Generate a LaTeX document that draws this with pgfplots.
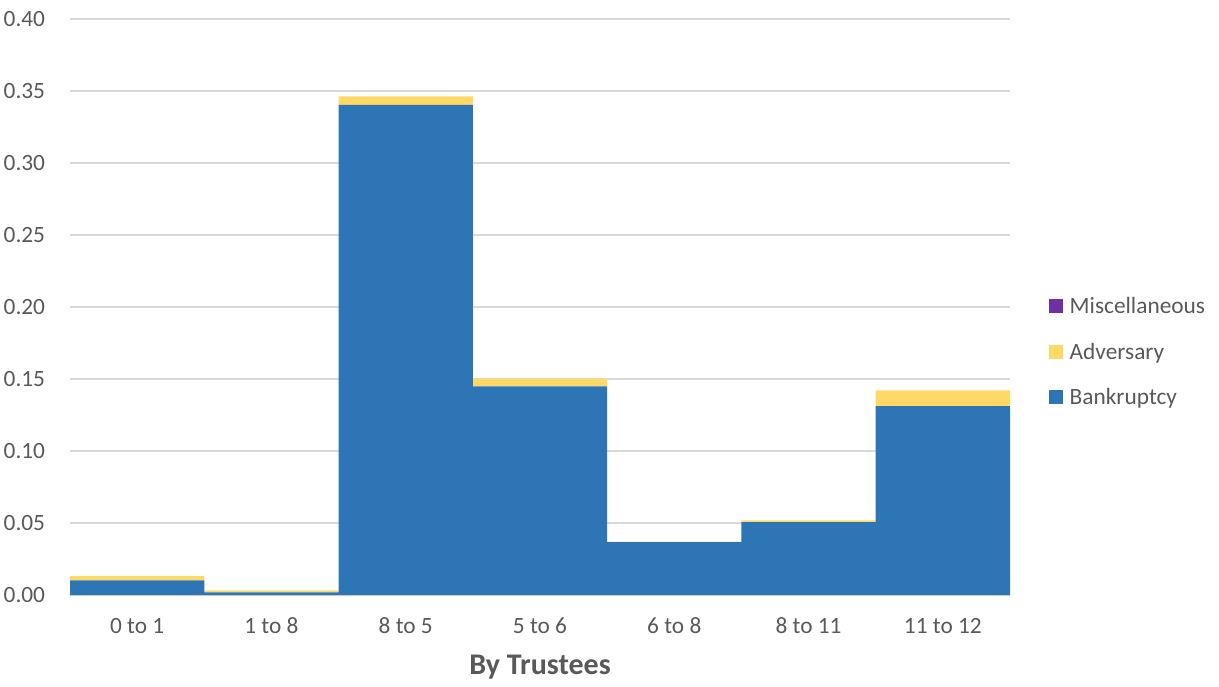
\documentclass[border=0pt]{standalone}
\usepackage{pgfplots}
\pgfplotsset{compat=1.18}
\usepackage{fontspec}
\setmainfont{Carlito}
\definecolor{cBlue}{HTML}{2E75B6}
\definecolor{cYel}{HTML}{FFD966}
\definecolor{cPur}{HTML}{7030A0}
\definecolor{cGrid}{HTML}{D9D9D9}
\definecolor{cText}{HTML}{595959}
\begin{document}
\begin{tikzpicture}
\path[use as bounding box] (-52.5pt,-68.25pt) rectangle (861.75pt,446.25pt);
\begin{axis}[
  at={(0,0)}, anchor=south west,
  scale only axis, width=705pt, height=432pt,
  ybar stacked, bar width=1,
  xmin=-0.5, xmax=6.5, ymin=0, ymax=0.40,
  ytick={0,0.05,...,0.40},
  xtick={0,...,6},
  xticklabels={0 to 1,1 to 8,8 to 5,5 to 6,6 to 8,8 to 11,11 to 12},
  yticklabel style={/pgf/number format/fixed,/pgf/number format/fixed zerofill,/pgf/number format/precision=2,/pgf/number format/assume math mode=true},
  ymajorgrids, grid style={cGrid, line width=1pt},
  axis line style={draw=none},
  major tick length=0pt,
  tick label style={font=\fontsize{17.5}{21}\selectfont, text=cText, inner sep=0pt},
  yticklabel style={anchor=east, xshift=-18.5pt},
  xticklabel style={anchor=north, yshift=-17pt},
  xlabel={By Trustees},
  xlabel style={font=\bfseries\fontsize{22.5}{27}\selectfont, text=cText, at={(axis description cs:0.5,0)}, anchor=center, yshift=-54pt},
  legend style={draw=none, fill=none, at={(rel axis cs:1.037,0.422)}, anchor=west,
    font=\fontsize{17.5}{21}\selectfont, text=cText, row sep=16.5pt,
    /tikz/every odd column/.append style={column sep=3pt},
    /tikz/every even column/.append style={column sep=0pt}},
  legend cell align=left,
  reverse legend,
  legend image code/.code={\fill[#1] (0pt,-5.25pt) rectangle (10.5pt,5.25pt);},
]
\addplot[fill=cBlue, draw=none] coordinates {(0,0.0101) (1,0.0018) (2,0.3404) (3,0.1448) (4,0.0367) (5,0.0506) (6,0.1311)};
\addplot[fill=cYel, draw=none] coordinates {(0,0.0030) (1,0.0014) (2,0.0058) (3,0.0055) (4,0.0003) (5,0.0012) (6,0.0110)};
\addplot[fill=cPur, draw=none] coordinates {(0,0) (1,0) (2,0) (3,0) (4,0) (5,0) (6,0)};
\legend{Bankruptcy,Adversary,Miscellaneous}
\end{axis}
\end{tikzpicture}
\end{document}
